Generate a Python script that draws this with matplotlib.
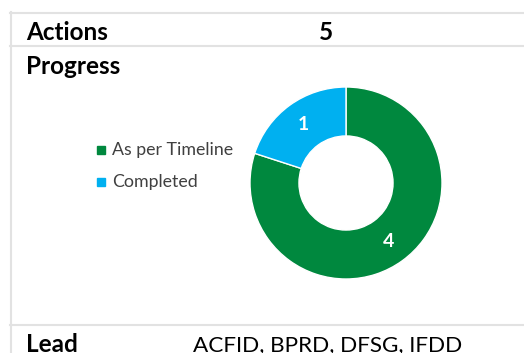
import matplotlib.pyplot as plt
from matplotlib.lines import Line2D

W, H = 524, 353

# data
status_labels = ['As per Timeline', 'Completed']
status_counts = [4, 1]
status_colors = ['#00883e', '#00b0f0']
total_actions = 5
lead_units = ['ACFID', 'BPRD', 'DFSG', 'IFDD']

FONT = ['Lato', 'DejaVu Sans']
plt.rcParams['font.family'] = FONT


def px(x, y):
    # pixel coords (top-left origin) -> figure fraction
    return x / W, 1 - y / H


fig = plt.figure(figsize=(W / 100, H / 100), dpi=100)
fig.patch.set_facecolor('white')

# table grid lines
grid = '#e2e2e2'
for y in (12.5, 46, 325):
    x0, y0 = px(10, y)
    x1, _ = px(W, y)
    fig.add_artist(Line2D([x0, x1], [y0, y0], color=grid, lw=1.5))
x0, y0 = px(10.5, 12)
_, y1 = px(10.5, H)
fig.add_artist(Line2D([x0, x0], [y0, y1], color=grid, lw=1.5))

# row texts
fig.text(*px(26, 40), 'Actions', fontsize=17.5, fontweight='bold', va='baseline')
fig.text(*px(326, 40), str(total_actions), fontsize=17.5, fontweight='bold',
         va='baseline', ha='center')
fig.text(*px(26, 74), 'Progress', fontsize=17.5, fontweight='bold', va='baseline')
fig.text(*px(26, 351.5), 'Lead', fontsize=17.5, fontweight='bold', va='baseline')
fig.text(*px(193, 351.5), ', '.join(lead_units), fontsize=16.2, va='baseline')

# donut
cx, cy, r = 346, 183, 96
ax = fig.add_axes([(cx - r) / W, (H - cy - r) / H, 2 * r / W, 2 * r / H])
wedges, _, autotexts = ax.pie(
    status_counts, colors=status_colors, startangle=90, counterclock=False,
    radius=1, wedgeprops=dict(width=0.51, edgecolor='white', linewidth=1),
    autopct=lambda p: f'{round(p * sum(status_counts) / 100)}',
    pctdistance=0.75, textprops=dict(color='white', fontsize=14, fontweight='bold'))
ax.set_xlim(-1, 1)
ax.set_ylim(-1, 1)
ax.axis('off')

# legend
for i, (lab, col) in enumerate(zip(status_labels, status_colors)):
    y = 150 + i * 32
    fig.patches.append(plt.Rectangle(px(97, y + 4), 8 / W, 8 / H, color=col,
                                     transform=fig.transFigure, figure=fig))
    fig.text(*px(112, y), lab, fontsize=12.8, color='#404040', va='center')

fig.savefig('out.png', dpi=100)
